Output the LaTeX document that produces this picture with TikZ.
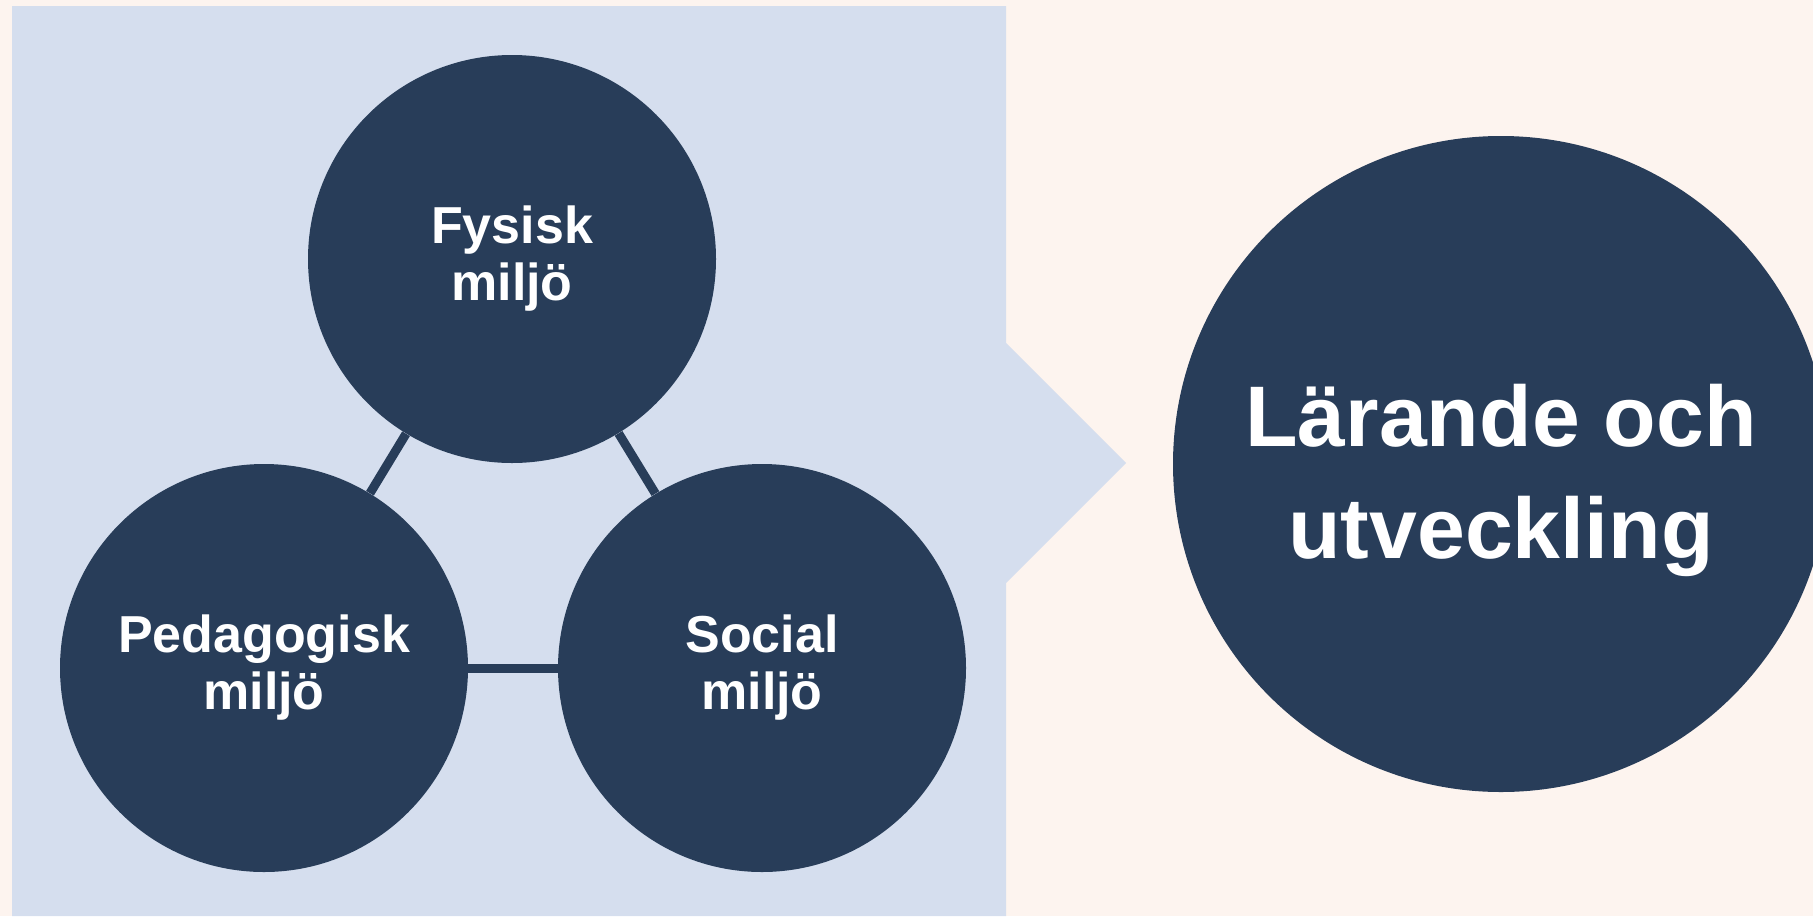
\documentclass[tikz,border=0pt]{standalone}
\usepackage{fontspec}
\setmainfont{Liberation Sans}
\usepackage{xcolor}
\usepackage{tikz}

\definecolor{navy}{HTML}{283D59}
\definecolor{panelblue}{HTML}{D5DEEE}
\definecolor{peach}{HTML}{FDF4EF}

\begin{document}
\begin{tikzpicture}[x=0.5pt, y=-0.5pt,
    env/.style={circle, fill=navy, text=white, minimum size=204pt, inner sep=0pt,
                align=center, font=\bfseries\fontsize{26}{28.5}\selectfont},
    goal/.style={circle, fill=navy, minimum size=328pt, inner sep=0pt},
    goaltext/.style={text=white, align=center, yshift=-8pt,
                     font=\bfseries\fontsize{43}{56}\selectfont},
    link/.style={navy, line width=4.5pt}]
            % Background
            \clip (0,0) rectangle (1813,916);
            \fill[peach] (0,0) rectangle (1813,916);
            \fill[panelblue] (12,6) -- (1006,6) -- (1006,343) -- (1126,463)
                -- (1006,583) -- (1006,916) -- (12,916) -- cycle;

            % Circles
            \node[env] (fys) at (512,259) {Fysisk\\milj\"o};
            \node[env] (ped) at (264,668) {Pedagogisk\\milj\"o};
            \node[env] (soc) at (762,668) {Social\\milj\"o};
            \node[goal, label={[goaltext]center:L\"arande och\\utveckling}] (lar) at (1501,464) {};

            % Links
            \draw[link] (fys) -- (ped);
            \draw[link] (fys) -- (soc);
            \draw[link] (ped) -- (soc);
        \end{tikzpicture}
\end{document}
